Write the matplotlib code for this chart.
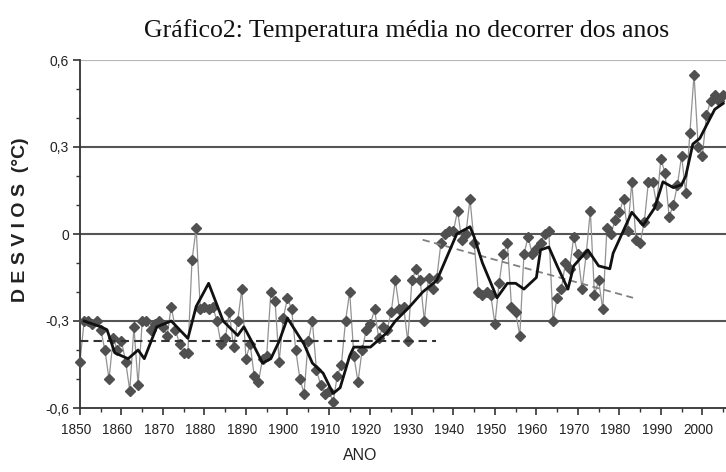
import matplotlib
matplotlib.use("Agg")
import matplotlib.pyplot as plt
from matplotlib.ticker import MultipleLocator, FixedLocator
import matplotlib.transforms as mtransforms

years = list(range(1850, 2006))
anomaly = [
    -0.44, -0.30, -0.30, -0.31, -0.30, -0.33, -0.40, -0.50, -0.36, -0.40,   # 1850-1859
    -0.37, -0.44, -0.54, -0.32, -0.52, -0.30, -0.30, -0.33, -0.31, -0.30,   # 1860-1869
    -0.32, -0.35, -0.25, -0.33, -0.38, -0.41, -0.41, -0.09, 0.02, -0.26,    # 1870-1879
    -0.25, -0.26, -0.25, -0.30, -0.38, -0.36, -0.27, -0.39, -0.30, -0.19,   # 1880-1889
    -0.43, -0.38, -0.49, -0.51, -0.43, -0.42, -0.20, -0.23, -0.44, -0.29,   # 1890-1899
    -0.22, -0.26, -0.40, -0.50, -0.55, -0.37, -0.30, -0.47, -0.52, -0.55,   # 1900-1909
    -0.54, -0.58, -0.49, -0.45, -0.30, -0.20, -0.42, -0.51, -0.40, -0.33,   # 1910-1919
    -0.31, -0.26, -0.36, -0.32, -0.33, -0.27, -0.16, -0.26, -0.25, -0.37,   # 1920-1929
    -0.16, -0.12, -0.16, -0.30, -0.15, -0.19, -0.15, -0.03, 0.00, 0.01,     # 1930-1939
    0.01, 0.08, -0.02, 0.00, 0.12, -0.03, -0.20, -0.21, -0.20, -0.21,       # 1940-1949
    -0.31, -0.17, -0.07, -0.03, -0.25, -0.27, -0.35, -0.07, -0.01, -0.07,   # 1950-1959
    -0.05, -0.03, 0.00, 0.01, -0.30, -0.22, -0.19, -0.10, -0.12, -0.01,     # 1960-1969
    -0.07, -0.19, -0.07, 0.08, -0.21, -0.16, -0.26, 0.02, 0.00, 0.05,       # 1970-1979
    0.075, 0.12, 0.01, 0.18, -0.02, -0.03, 0.04, 0.18, 0.18, 0.10,          # 1980-1989
    0.26, 0.21, 0.06, 0.10, 0.17, 0.27, 0.14, 0.35, 0.55, 0.30,             # 1990-1999
    0.27, 0.41, 0.46, 0.48, 0.46, 0.48,                                     # 2000-2005
]

smooth_years = [1851, 1853, 1855, 1856.5, 1858.4, 1861.6, 1864, 1865.5, 1868.5, 1872,
                1876, 1878, 1881, 1884.5, 1888, 1889.5, 1891, 1894, 1896, 1898,
                1900, 1904, 1906, 1908.6, 1911, 1912.7, 1915, 1916, 1920, 1924,
                1926, 1929.5, 1932.6, 1936, 1938.4, 1940.8, 1944, 1945, 1947,
                1950.5, 1953, 1955, 1957, 1960, 1961, 1963, 1965, 1967.6, 1969,
                1972.4, 1975, 1977.7, 1978.5, 1980.6, 1983, 1985.7, 1988.5,
                1990.5, 1993, 1995, 1996, 1997.7, 1999.4, 2001, 2003, 2005]
smooth_vals = [-0.30, -0.31, -0.32, -0.33, -0.41, -0.43, -0.40, -0.43, -0.32, -0.30,
               -0.36, -0.25, -0.17, -0.30, -0.35, -0.32, -0.36, -0.445, -0.43, -0.37,
               -0.29, -0.38, -0.445, -0.48, -0.55, -0.53, -0.42, -0.39, -0.39, -0.34,
               -0.30, -0.25, -0.20, -0.16, -0.08, 0.00, 0.025, -0.01, -0.10,
               -0.22, -0.17, -0.17, -0.19, -0.15, -0.055, -0.045, -0.11, -0.19, -0.11,
               -0.055, -0.11, -0.12, -0.066, 0.00, 0.075, 0.03, 0.09,
               0.18, 0.16, 0.17, 0.20, 0.31, 0.33, 0.375, 0.43, 0.45]

trend1_years = [1850, 1935.8]
trend1_vals = [-0.37, -0.37]
trend2_years = [1932.6, 1983.3]
trend2_vals = [-0.02, -0.22]

ytick_vals = [-0.6, -0.3, 0.0, 0.3, 0.6]
ytick_labels = ["-0,6", "-0,3", "0", "0,3", "0,6"]
xtick_vals = list(range(1850, 2001, 10))
xtick_labels = [str(y) for y in xtick_vals]

narrow = ["Liberation Sans Narrow", "Liberation Sans", "DejaVu Sans"]

fig = plt.figure(figsize=(7.26, 4.72), dpi=100)
ax = fig.add_axes([80/726, 1-408/472, 1-80/726, (408-60)/472])

# grid lines
ax.axhline(0.6, color="#b8b8b8", lw=1.6, zorder=1)
for v in [0.3, 0.0, -0.3]:
    ax.axhline(v, color="#555555", lw=1.5, zorder=1)

ax.plot(years, anomaly, color="#929292", lw=0.9, zorder=2)
ax.plot(years, anomaly, linestyle="none", marker="D", markersize=5.5,
        color="#505050", markeredgecolor="#505050", zorder=3, clip_on=False)
ax.plot(smooth_years, smooth_vals, color="#111111", lw=2.0, zorder=4)
ax.plot(trend1_years, trend1_vals, color="#333333", lw=1.5, ls=(0, (4, 2.5)), zorder=3)
ax.plot(trend2_years, trend2_vals, color="#808080", lw=1.3, ls=(0, (4, 2.5)), zorder=3)

ax.set_xlim(1850, 2005.7)
ax.set_ylim(-0.6, 0.6)

ax.xaxis.set_major_locator(FixedLocator(xtick_vals))
ax.set_xticklabels(xtick_labels, family=narrow, fontsize=9.8)
ax.xaxis.set_minor_locator(MultipleLocator(5))
ax.yaxis.set_major_locator(FixedLocator(ytick_vals))
ax.set_yticklabels(ytick_labels, family=narrow, fontsize=10)
ax.yaxis.set_minor_locator(MultipleLocator(0.1))

ax.tick_params(axis="both", which="major", direction="out", length=5, width=1.2,
               color="#333333", labelcolor="#222222")
ax.tick_params(axis="both", which="minor", direction="out", length=3, width=1.0,
               color="#333333")
ax.tick_params(axis="x", pad=6)
ax.tick_params(axis="y", pad=3)

shift = mtransforms.ScaledTranslation(-4/100, 0, fig.dpi_scale_trans)
for lab in ax.get_xticklabels():
    lab.set_transform(lab.get_transform() + shift)

for s in ["top", "right"]:
    ax.spines[s].set_visible(False)
for s in ["left", "bottom"]:
    ax.spines[s].set_color("#333333")
    ax.spines[s].set_linewidth(1.3)

fig.text(407/726, 1-31/472, "Gráfico2: Temperatura média no decorrer dos anos",
         family=["Liberation Serif", "DejaVu Serif"], fontsize=18.5, ha="center",
         va="center", color="#111111")
fig.text(21/726, 1-220/472, "D E S V I O S  (°C)", rotation=90, ha="center",
         va="center", fontsize=14, fontweight="bold", color="#222222",
         family=["Liberation Sans", "DejaVu Sans"])
fig.text(360/726, 1-456/472, "ANO", ha="center", va="center", fontsize=11.5,
         family=narrow, color="#222222")

fig.savefig("out.png", dpi=100)
